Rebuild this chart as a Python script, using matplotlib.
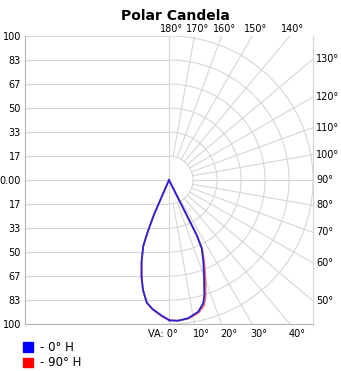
import numpy as np
import matplotlib
matplotlib.use("Agg")
import matplotlib.pyplot as plt
from matplotlib.patches import Patch

# vertical angle from nadir (deg) and relative candela
# right half of each curve
va_0h = [0, 3.8, 7.9, 12.5, 15.5, 17.1, 20.2, 22.8, 25.6, 26.7, 26.8]
cd_0h = [97.5, 97.9, 96.9, 93.7, 88.9, 83.5, 70.3, 61.5, 52.6, 42.8, 0]
va_90h = [0, 3.8, 7.9, 12.5, 15.5, 17.1, 20.2, 22.8, 25.6, 26.7, 26.8]
cd_90h = [97.5, 97.9, 97.2, 94.5, 90.5, 86.0, 73.5, 63.5, 53.5, 43.5, 0]
# left half of each curve (180 H / 270 H planes)
va_180h = [0, 3.2, 7.3, 10.3, 13.3, 15.8, 18.5, 21.3, 22.3, 23.5, 23.8]
cd_180h = [97.2, 94.2, 90.3, 86.5, 78.5, 70.0, 60.1, 49.2, 39.4, 25.8, 0]
va_270h = [0, 3.2, 7.3, 10.3, 13.3, 15.8, 18.5, 21.3, 22.3, 23.5, 23.8]
cd_270h = [97.4, 94.6, 90.6, 86.5, 78.5, 70.0, 60.1, 49.2, 39.4, 25.8, 0]

series_names = ["- 0° H", "- 90° H"]
series_colors = ["#0000ff", "#ff0000"]

scale_ticks = np.linspace(-100, 100, 13)
scale_labels = ["100", "83", "67", "50", "33", "17", "0.00",
                "17", "33", "50", "67", "83", "100"]
top_angles = [180, 170, 160, 150, 140]
side_angles = [130, 120, 110, 100, 90, 80, 70, 60, 50]
bottom_angles = [0, 10, 20, 30, 40]

GRID = "#d6d6d6"
FRAME = "#b4b4b4"
PX = 1.44  # pixels per data unit


def to_xy(va_right, cd_right, va_left, cd_left):
    """Build one outline: left half down to nadir, then right half up"""
    vl = np.radians(va_left)[::-1]
    cl = np.array(cd_left)[::-1]
    vr = np.radians(va_right)
    cr = np.array(cd_right)
    x = np.concatenate([-cl * np.sin(vl), cr * np.sin(vr)])
    y = np.concatenate([-cl * np.cos(vl), -cr * np.cos(vr)])
    return x, y


def main():
    fig = plt.figure(figsize=(3.41, 3.71), dpi=100)
    ax = fig.add_axes([25 / 341, 47 / 371, 288 / 341, 288 / 371])
    ax.set_xlim(-100, 100)
    ax.set_ylim(-100, 100)

    # left half: horizontal grid
    for t in scale_ticks:
        ax.plot([-100, 0], [t, t], color=GRID, lw=0.8, zorder=1)
    ax.plot([0, 0], [-100, 100], color=GRID, lw=0.8, zorder=1)

    # right half: arcs and radial lines
    th = np.radians(np.linspace(0, 180, 181))
    for r in scale_ticks[scale_ticks > 0]:
        ax.plot(r * np.sin(th), -r * np.cos(th), color=GRID, lw=0.8, zorder=1)
    r0 = 100 / 6
    for a in range(10, 180, 10):
        t = np.radians(a)
        ax.plot([r0 * np.sin(t), 300 * np.sin(t)],
                [-r0 * np.cos(t), -300 * np.cos(t)],
                color=GRID, lw=0.8, zorder=1)

    # angle labels around the frame
    for a in top_angles:
        x = 100 * np.tan(np.radians(180 - a))
        ax.text(x + 3 / PX, 105, f"{a}°", ha="center", va="center",
                fontsize=7, clip_on=False)
    for a in side_angles:
        y = 100 * np.tan(np.radians(a - 90))
        ax.text(102, y, f"{a}°", ha="left", va="center",
                fontsize=7, clip_on=False)
    for a in bottom_angles:
        x = 100 * np.tan(np.radians(a))
        if a == 0:
            ax.text(9 / PX, -107, "VA: 0°", ha="right", va="center",
                    fontsize=7, clip_on=False)
        else:
            ax.text(x - 1.5 / PX, -107, f"{a}°", ha="left", va="center",
                    fontsize=7, clip_on=False)

    # curves: 90 H under 0 H
    x, y = to_xy(va_90h, cd_90h, va_270h, cd_270h)
    ax.plot(x, y, color="#ff4040", lw=1.3, alpha=0.8, zorder=3)
    x, y = to_xy(va_0h, cd_0h, va_180h, cd_180h)
    ax.plot(x, y, color="#2b22d6", lw=1.3, zorder=4)

    ax.set_yticks(scale_ticks)
    ax.set_yticklabels(scale_labels, fontsize=7)
    ax.set_xticks([])
    ax.tick_params(axis="y", length=0, pad=3)
    ax.spines["top"].set_visible(False)
    ax.spines["right"].set_color(GRID)
    ax.spines["left"].set_color(FRAME)
    ax.spines["bottom"].set_color(FRAME)

    fig.text(175 / 341, 1 - 16 / 371, "Polar Candela", ha="center",
             va="center", fontsize=10, fontweight="bold")

    handles = [Patch(color=c) for c in series_colors]
    fig.legend(handles, series_names, loc="upper left",
               bbox_to_anchor=(23 / 341, 1 - 341 / 371), frameon=False,
               fontsize=8.5, handlelength=0.85, handleheight=0.85,
               handletextpad=0.6, labelspacing=0.2, borderpad=0,
               borderaxespad=0)

    fig.savefig("out.png", dpi=100)


if __name__ == "__main__":
    main()
